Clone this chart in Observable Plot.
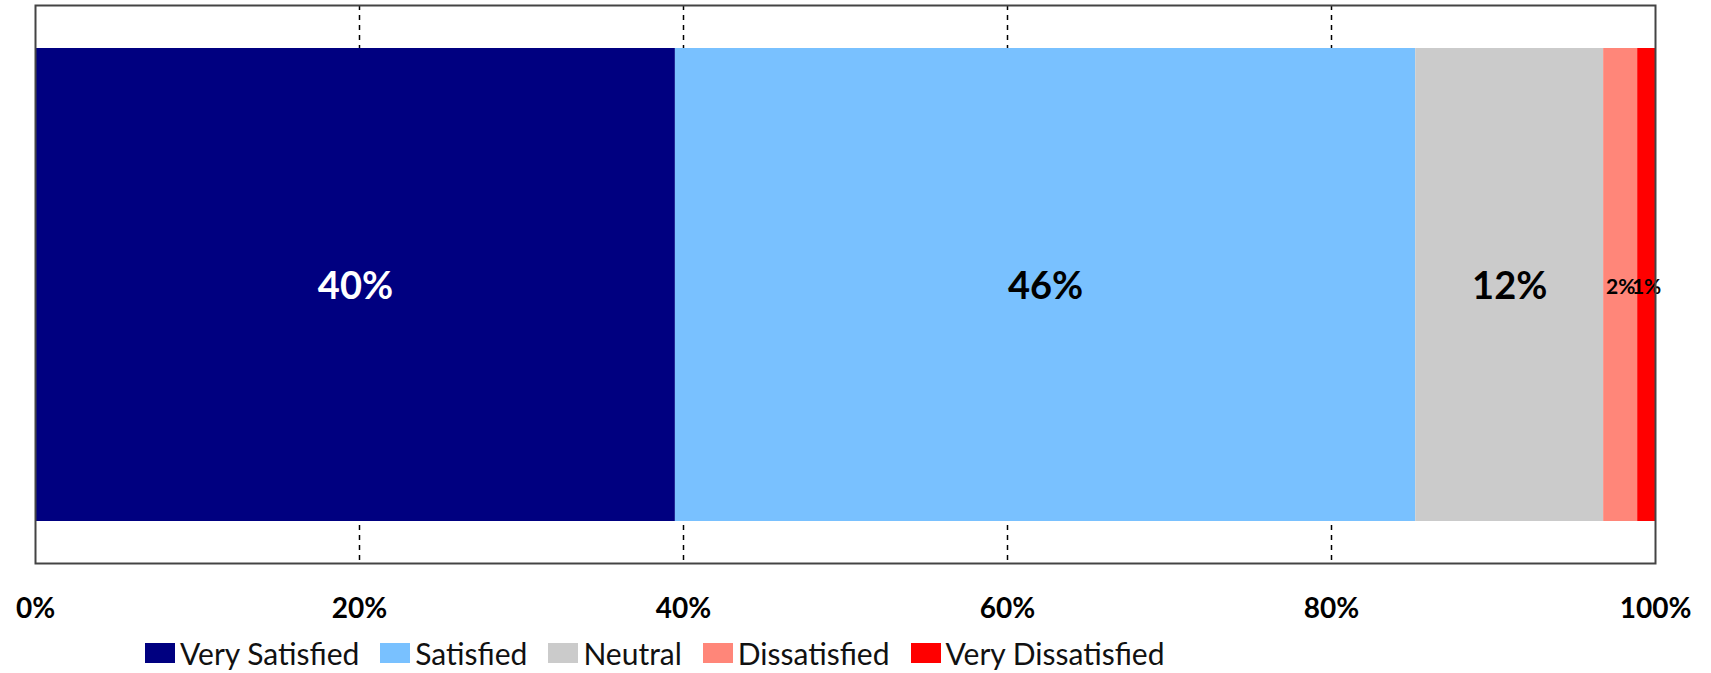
<!DOCTYPE html>
<html>
<head>
<meta charset="utf-8">
<script src="https://cdn.jsdelivr.net/npm/d3@7"></script>
<script src="https://cdn.jsdelivr.net/npm/@observablehq/plot@0.6"></script>
<style>
  html, body { margin: 0; padding: 0; background: #fff; }
  #chart svg { display: block; }
  #legend { display: flex; align-items: center; height: 41px; padding-left: 145px;
            font-family: Lato, sans-serif; font-size: 30px; color: #111; }
  .item { display: flex; align-items: center; margin-right: 21px; }
  .sw { width: 30px; height: 20px; margin-right: 5px; }
</style>
</head>
<body>
<div id="chart"></div>
<div id="legend"></div>
<script>
const categories = ["Very Satisfied", "Satisfied", "Neutral", "Dissatisfied", "Very Dissatisfied"];
const values = [39.5, 45.7, 11.6, 2.1, 1.1];
const colors = ["#000080", "#79c1ff", "#cbcbcb", "#ff8679", "#ff0000"];
const labelColors = ["#ffffff", "#000000", "#000000", "#000000", "#000000"];
const labelSizes = [38, 38, 38, 21, 21];
const xTicks = [0, 20, 40, 60, 80, 100];
const gridTicks = [20, 40, 60, 80];

const ends = d3.cumsum(values);
const rows = categories.map((c, i) => ({
  cat: c, value: values[i], start: ends[i] - values[i], end: ends[i],
  label: Math.round(values[i]) + "%", color: labelColors[i], size: labelSizes[i]
}));

const chart = Plot.plot({
  width: 1711,
  height: 632,
  marginLeft: 35,
  marginRight: 56,
  marginTop: 5,
  marginBottom: 69,
  style: { fontFamily: "Lato, sans-serif", background: "#fff" },
  x: { domain: [0, 100] },
  y: { domain: ["all"], padding: 0.0824, axis: null },
  color: { domain: categories, range: colors },
  marks: [
    Plot.ruleX(gridTicks, { stroke: "#000", strokeWidth: 1.5, strokeDasharray: "5,5" }),
    Plot.barX(rows, Plot.stackX({ x: "value", y: () => "all", fill: "cat", order: null })),
    Plot.text(rows.filter(d => d.color === "#ffffff"), {
      x: d => (d.start + d.end) / 2, y: () => "all", text: "label",
      fill: "#ffffff", fontSize: 38, fontWeight: "bold", dy: 2
    }),
    Plot.text(rows.filter(d => d.color !== "#ffffff" && d.size === 38), {
      x: d => (d.start + d.end) / 2, y: () => "all", text: "label",
      fill: "#000000", fontSize: 38, fontWeight: "bold", dy: 2
    }),
    Plot.text(rows.filter(d => d.size === 21), {
      x: d => (d.start + d.end) / 2, y: () => "all", text: "label",
      fill: "#000000", fontSize: 21, fontWeight: "bold", dy: 2
    }),
    Plot.axisX({
      ticks: xTicks, tickFormat: d => d + "%", tickSize: 0, tickPadding: 35,
      fontSize: 28, fontWeight: "bold", fill: "#000", label: null
    }),
    Plot.frame({ stroke: "#444", strokeWidth: 2 })
  ]
});
document.getElementById("chart").appendChild(chart);

const legend = document.getElementById("legend");
categories.forEach((c, i) => {
  const item = document.createElement("div");
  item.className = "item";
  const sw = document.createElement("div");
  sw.className = "sw";
  sw.style.background = colors[i];
  const t = document.createElement("span");
  t.textContent = c;
  item.appendChild(sw);
  item.appendChild(t);
  legend.appendChild(item);
});
</script>
</body>
</html>
